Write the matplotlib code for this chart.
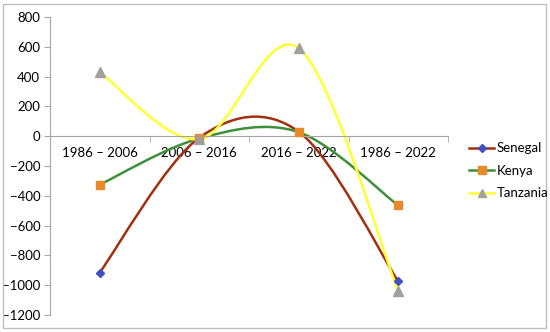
import numpy as np
import matplotlib.pyplot as plt
from matplotlib.path import Path
from matplotlib.patches import PathPatch, Rectangle
from matplotlib.lines import Line2D

plt.rcParams['font.family'] = ['Lato', 'DejaVu Sans']

periods = ['1986 \u2013 2006', '2006 \u2013 2016', '2016 \u2013 2022', '1986 \u2013 2022']
senegal = [-915, -10, 30, -975]
kenya = [-325, -15, 27, -465]
tanzania = [430, -20, 590, -1040]

series = [
    ('Senegal', senegal, '#A0300F', '#3F4FC8', 'D', 4.5),
    ('Kenya', kenya, '#3F8F3A', '#E8892A', 's', 6),
    ('Tanzania', tanzania, '#FFFF33', '#A0A0A0', '^', 6.5),
]


def smooth_path(xs, ys):
    # Excel-style smoothed line: cubic Bezier with Catmull-Rom tangents
    pts = np.column_stack([xs, ys]).astype(float)
    n = len(pts)
    verts = [pts[0]]
    codes = [Path.MOVETO]
    for i in range(n - 1):
        p0 = pts[max(i - 1, 0)]
        p1 = pts[i]
        p2 = pts[i + 1]
        p3 = pts[min(i + 2, n - 1)]
        c1 = p1 + (p2 - p0) / 6.0
        c2 = p2 - (p3 - p1) / 6.0
        verts += [c1, c2, p2]
        codes += [Path.CURVE4] * 3
    return Path(verts, codes)


fig = plt.figure(figsize=(5.5, 3.32), dpi=100)
ax = fig.add_axes([50 / 550, 1 - 315 / 332, 398 / 550, 298 / 332])

x = np.arange(len(periods))
handles = []
for name, vals, lc, mc, mk, ms in series:
    ax.add_patch(PathPatch(smooth_path(x, vals), facecolor='none',
                           edgecolor=lc, lw=1.8, zorder=2))
    ax.plot(x, vals, linestyle='none', marker=mk, markersize=ms,
            color=mc, zorder=3)
    handles.append(Line2D([], [], color=lc, lw=1.8, marker=mk,
                          markersize=ms - 0.5, markerfacecolor=mc,
                          markeredgecolor=mc))

ax.set_xlim(-0.5, 3.5)
ax.set_ylim(-1200, 800)
ax.set_yticks(np.arange(-1200, 801, 200))
ax.set_xticks(x)
ax.set_xticklabels(periods)
ax.set_xticks(np.arange(-0.5, 3.6, 1), minor=True)

for s in ['top', 'right']:
    ax.spines[s].set_visible(False)
ax.spines['bottom'].set_position(('data', 0))
ax.spines['bottom'].set_color('#A6A6A6')
ax.spines['left'].set_color('#A6A6A6')
ax.tick_params(axis='x', which='major', length=0, pad=8, labelsize=9.5)
ax.tick_params(axis='x', which='minor', length=4, color='#A6A6A6',
               direction='out')
ax.tick_params(axis='y', length=4, color='#A6A6A6', labelsize=9.5, pad=3)

fig.legend(handles, ['Senegal', 'Kenya', 'Tanzania'], loc='upper left',
           bbox_to_anchor=(464 / 550, 1 - 137 / 332), frameon=False,
           fontsize=9.5, handlelength=1.9, handletextpad=0.2,
           labelspacing=0.8, borderaxespad=0)

fig.add_artist(Rectangle((3 / 550, 4 / 332), 543 / 550, 324 / 332,
                         transform=fig.transFigure, fill=False,
                         edgecolor='#BFBFBF', lw=1))

fig.savefig('out.png', dpi=100)
